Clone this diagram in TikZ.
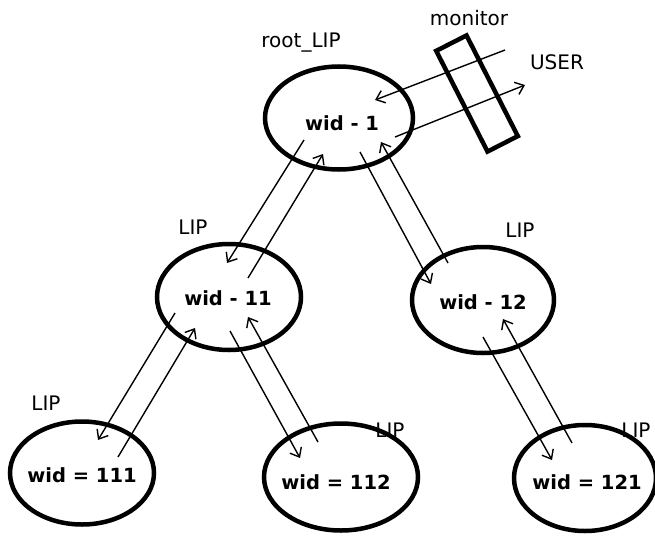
\documentclass[tikz,border=0pt]{standalone}
\usepackage{fontspec}
\setmainfont{DejaVu Sans}
\usetikzlibrary{shapes.geometric,arrows.meta}
\begin{document}
\begin{tikzpicture}[x=1pt,y=-1pt,
  lip/.style={draw, ellipse, line width=4.5pt, inner sep=0pt},
  wtxt/.style={font=\fontsize{19.5}{23}\selectfont\bfseries, inner sep=0pt},
  lbl/.style={font=\fontsize{20}{23}\selectfont, inner sep=0pt},
  msg/.style={line width=1.4pt, -{Straight Barb[length=8pt,width=13pt,line width=1.4pt]}},
  mon/.style={draw, line width=4.5pt, rectangle, minimum width=34pt, minimum height=113pt, rotate=27}]
\useasboundingbox (0,0) rectangle (655,535);
% nodes
\node[lip, minimum width=148pt, minimum height=103pt] (w1) at (339,118) {};
\node[lip, minimum width=144pt, minimum height=106pt] (w11) at (229,297) {};
\node[lip, minimum width=142pt, minimum height=106pt] (w12) at (483,300) {};
\node[lip, minimum width=144pt, minimum height=103pt] (w111) at (82,473) {};
\node[lip, minimum width=154pt, minimum height=107pt] (w112) at (341,477) {};
\node[lip, minimum width=142pt, minimum height=106pt] (w121) at (585,478) {};
\node[wtxt] (t1) at (342,123) {wid - 1};
\node[wtxt] (t11) at (228,298) {wid - 11};
\node[wtxt] (t12) at (483,302) {wid - 12};
\node[wtxt] (t111) at (82,475) {wid = 111};
\node[wtxt] (t112) at (336,482) {wid = 112};
\node[wtxt] (t121) at (587,482) {wid = 121};
\node[mon] (mon) at (477,93.5) {};
% labels
\node[lbl] (lroot) at (301,43) {root\_LIP};
\node[lbl] (lmon) at (469,18) {monitor};
\node[lbl] (luser) at (557,62) {USER};
\node[lbl] (l11) at (193,227) {LIP};
\node[lbl] (l12) at (520,230) {LIP};
\node[lbl] (l111) at (46,403) {LIP};
\node[lbl] (l112) at (390,430) {LIP};
\node[lbl] (l121) at (636,430) {LIP};
% connector end points
\coordinate (ui-s) at (505,50);  \coordinate (ui-e) at (375,100);
\coordinate (uo-s) at (395,137); \coordinate (uo-e) at (525,85);
\coordinate (a-s) at (304,140);  \coordinate (a-e) at (227,263);
\coordinate (b-s) at (248,278);  \coordinate (b-e) at (323,154);
\coordinate (c-s) at (360,152);  \coordinate (c-e) at (431,284);
\coordinate (d-s) at (448,263);  \coordinate (d-e) at (381,142);
\coordinate (e-s) at (175,313);  \coordinate (e-e) at (98,440);
\coordinate (f-s) at (118,457);  \coordinate (f-e) at (195,328);
\coordinate (g-s) at (230,331);  \coordinate (g-e) at (300,458);
\coordinate (h-s) at (318,442);  \coordinate (h-e) at (248,317);
\coordinate (i-s) at (483,337);  \coordinate (i-e) at (552,460);
\coordinate (j-s) at (572,443);  \coordinate (j-e) at (503,319);
% connectors
\draw[msg] (ui-s) -- (ui-e);
\draw[msg] (uo-s) -- (uo-e);
\draw[msg] (a-s) -- (a-e);
\draw[msg] (b-s) -- (b-e);
\draw[msg] (c-s) -- (c-e);
\draw[msg] (d-s) -- (d-e);
\draw[msg] (e-s) -- (e-e);
\draw[msg] (f-s) -- (f-e);
\draw[msg] (g-s) -- (g-e);
\draw[msg] (h-s) -- (h-e);
\draw[msg] (i-s) -- (i-e);
\draw[msg] (j-s) -- (j-e);
\end{tikzpicture}
\end{document}
